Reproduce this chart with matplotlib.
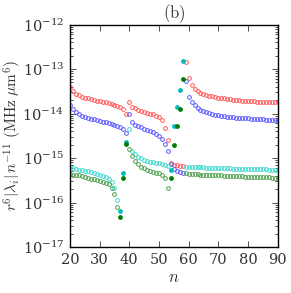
import matplotlib
matplotlib.use("Agg")
import matplotlib.pyplot as plt
import numpy as np

plt.rcParams['mathtext.fontset'] = 'cm'
plt.rcParams['font.family'] = 'serif'
plt.rcParams['font.serif'] = ['DejaVu Serif']

# principal quantum number
n = np.arange(20, 91)

# log10 of r^6 |lambda_i| n^-11 (MHz um^6), one value per n
red_log = [
    -13.41, -13.50, -13.55, -13.59, -13.62, -13.64, -13.66, -13.68, -13.69, -13.71,
    -13.72, -13.73, -13.75, -13.77, -13.78, -13.80, -13.82, -13.86, -13.90, -14.00,
    -13.74, -13.85, -13.88, -13.91, -13.94, -13.96, -13.98, -14.00, -14.02, -14.05,
    -14.07, -14.15, -14.33, -14.59, -15.11, -15.15, -15.16, -15.17, -15.17, -12.84,
    -13.20, -13.36, -13.45, -13.50, -13.53, -13.56, -13.58, -13.60, -13.61, -13.63,
    -13.64, -13.65, -13.66, -13.67, -13.68, -13.69, -13.69, -13.70, -13.71, -13.71,
    -13.71, -13.72, -13.72, -13.73, -13.73, -13.73, -13.74, -13.74, -13.74, -13.74,
    -13.74]
blue_log = [
    -13.81, -13.90, -13.97, -14.01, -14.05, -14.07, -14.10, -14.12, -14.13, -14.15,
    -14.16, -14.18, -14.19, -14.21, -14.23, -14.25, -14.28, -14.30, -14.34, -14.43,
    -14.01, -14.20, -14.25, -14.28, -14.31, -14.34, -14.37, -14.39, -14.42, -14.45,
    -14.50, -14.57, -14.68, -14.85, -15.14, -15.24, -15.29, -15.32, -15.34, -13.26,
    -13.62, -13.74, -13.81, -13.87, -13.91, -13.94, -13.97, -13.99, -14.01, -14.03,
    -14.04, -14.05, -14.06, -14.07, -14.08, -14.08, -14.09, -14.10, -14.10, -14.11,
    -14.11, -14.12, -14.12, -14.12, -14.13, -14.13, -14.14, -14.14, -14.14, -14.14,
    -14.15]
cyan_log = [
    -15.21, -15.23, -15.25, -15.26, -15.28, -15.29, -15.30, -15.32, -15.34, -15.36,
    -15.38, -15.40, -15.43, -15.46, -15.53, -15.68, -15.95, -16.19, -15.33, -14.64,
    -14.35, -14.85, -14.91, -14.97, -15.01, -15.04, -15.06, -15.08, -15.09, -15.11,
    -15.12, -15.14, -15.16, -15.18, -15.26, -14.27, -13.85, -13.46, -12.81, -15.20,
    -15.20, -15.20, -15.21, -15.21, -15.21, -15.21, -15.22, -15.22, -15.22, -15.22,
    -15.22, -15.23, -15.23, -15.23, -15.23, -15.24, -15.24, -15.24, -15.24, -15.24,
    -15.24, -15.25, -15.25, -15.25, -15.25, -15.25, -15.25, -15.26, -15.26, -15.26,
    -15.26]
green_log = [
    -15.35, -15.37, -15.38, -15.39, -15.41, -15.43, -15.44, -15.46, -15.47, -15.49,
    -15.51, -15.53, -15.56, -15.59, -15.68, -15.80, -16.09, -16.33, -15.44, -14.68,
    -14.79, -14.96, -15.07, -15.14, -15.20, -15.23, -15.26, -15.29, -15.31, -15.33,
    -15.34, -15.38, -15.44, -15.67, -15.45, -14.70, -14.28, -13.89, -13.23, -15.34,
    -15.35, -15.35, -15.36, -15.36, -15.37, -15.37, -15.38, -15.38, -15.38, -15.39,
    -15.39, -15.39, -15.40, -15.40, -15.40, -15.41, -15.41, -15.41, -15.41, -15.42,
    -15.42, -15.42, -15.42, -15.43, -15.43, -15.43, -15.43, -15.43, -15.44, -15.44,
    -15.44]

# n values where the lower two eigenvalues are drawn as filled dots
filled_n = [37, 38, 39, 54, 55, 56, 57, 58]

x_ticks = [20, 30, 40, 50, 60, 70, 80, 90]
y_ticks = [1e-17, 1e-16, 1e-15, 1e-14, 1e-13, 1e-12]

fig = plt.figure(figsize=(2.91, 2.93), dpi=100)
ax = fig.add_axes([0.2405, 0.157, 0.7135, 0.759])

filled = np.isin(n, filled_n)
ms = 2.7
mew = 0.7

series = [
    (red_log, '#ff5a5a', None),
    (blue_log, '#5a5aff', None),
    (cyan_log, '#40d8d0', '#00bcbc'),
    (green_log, '#4ea04e', '#007a00'),
]
for vals, col, fcol in series:
    y = 10.0 ** np.array(vals)
    if fcol is None:
        ax.plot(n, y, 'o', ms=ms, mfc='none', mec=col, mew=mew, ls='none')
    else:
        ax.plot(n[~filled], y[~filled], 'o', ms=ms, mfc='none', mec=col, mew=mew, ls='none')
        ax.plot(n[filled], y[filled], 'o', ms=ms, mfc=fcol, mec=fcol, mew=mew, ls='none')

ax.set_yscale('log')
ax.set_xlim(20, 90)
ax.set_ylim(1e-17, 1e-12)
ax.set_xticks(x_ticks)
ax.set_yticks(y_ticks)
ax.tick_params(which='both', direction='in', top=True, right=True, colors='#333333',
               labelcolor='#333333', labelsize=10.5, width=0.6)
ax.tick_params(which='major', length=4, pad=4)
ax.tick_params(which='minor', length=2)
for s in ax.spines.values():
    s.set_linewidth(1.0)

ax.set_xlabel(r'$n$', fontsize=12, color='#333333', labelpad=2)
ax.set_ylabel(r'$r^6|\lambda_i|\,n^{-11}\ (\mathrm{MHz}\ \mu\mathrm{m}^6)$',
              fontsize=11, color='#333333')
ax.yaxis.set_label_coords(-0.22, 0.5)
ax.set_title(r'$\mathrm{(b)}$', fontsize=12, color='#333333', pad=2)

fig.savefig('out.png', dpi=100)
